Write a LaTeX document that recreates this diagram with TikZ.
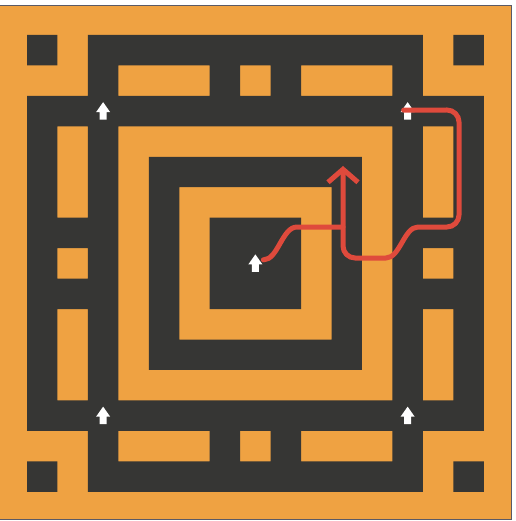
\documentclass[tikz,border=0pt]{standalone}
\usepackage{xcolor}
\definecolor{cFloor}{HTML}{EFA242}
\definecolor{cWall}{HTML}{363634}
\definecolor{cRoute}{HTML}{DF4A3C}
\definecolor{cEdge}{HTML}{5A5A66}
\usepackage{tikz}
\usetikzlibrary{arrows.meta}
\tikzset{
  maze-floor/.style={fill=cFloor},
  maze-wall/.style={fill=cWall},
  maze-edge/.style={draw=cEdge,line width=1pt},
  route/.style={draw=cRoute,line width=5pt,line cap=round,line join=round},
  route-arrow/.style={route,-{Straight Barb[length=13pt,width=30pt]}},
  up-marker/.pic={
    \fill[white] (-7,1) -- (0,-9) -- (7,1) -- (3.5,1) -- (3.5,8.5)
      -- (-3.5,8.5) -- (-3.5,1) -- cycle;
  },
}

\begin{document}
\begin{tikzpicture}[x=1pt,y=-1pt]
  \useasboundingbox (0,0) rectangle (515,521);
  \fill[maze-floor] (0,6) rectangle (511.5,519);
  \draw[maze-edge] (0,6) -- (511.5,6) -- (511.5,519) -- (0,519);
  % 15 x 15 cells: col/row ranges of the walls
  \begin{scope}[shift={(27,35)},x=30.45pt,y=-30.45pt]
    \fill[maze-wall] \foreach \ca/\ra/\cb/\rb in {
        0/0/0/0, 14/0/14/0, 0/14/0/14, 14/14/14/14,
        2/0/12/0, 2/14/12/14,
        2/1/2/1, 6/1/6/1, 8/1/8/1, 12/1/12/1,
        2/13/2/13, 6/13/6/13, 8/13/8/13, 12/13/12/13,
        0/2/14/2, 0/12/14/12,
        0/2/0/12, 2/2/2/12, 12/2/12/12, 14/2/14/12,
        0/6/2/6, 0/8/2/8, 12/6/14/6, 12/8/14/8,
        4/4/10/4, 4/10/10/10, 4/4/4/10, 10/4/10/10,
        6/6/8/8}
      {(\ca,\ra) rectangle (\cb+1,\rb+1)};
    \coordinate (tl) at (2.5,2.5);
    \coordinate (tr) at (12.5,2.5);
    \coordinate (ctr) at (7.5,7.5);
    \coordinate (bl) at (2.5,12.5);
    \coordinate (br) at (12.5,12.5);
  \end{scope}

  \foreach \m in {tl,tr,ctr,bl,br}
    \pic at (\m) {up-marker};

  \draw[route-arrow] ([shift={(-4pt,1pt)}]tr) -- (447,110)
    .. controls (453.6,110) and (459,115.4) .. (459,122) -- (459,215)
    .. controls (459,221.6) and (453.6,227) .. (447,227) -- (418,227)
    .. controls (404,227) and (400,258) .. (386,258) -- (355,258)
    .. controls (348.4,258) and (343,252.6) .. (343,246) -- (343,166);
  \draw[route] ([shift={(8pt,3.5pt)}]ctr)
    .. controls (278,260) and (282,227) .. (297,227) -- (343,227);
\end{tikzpicture}
\end{document}
